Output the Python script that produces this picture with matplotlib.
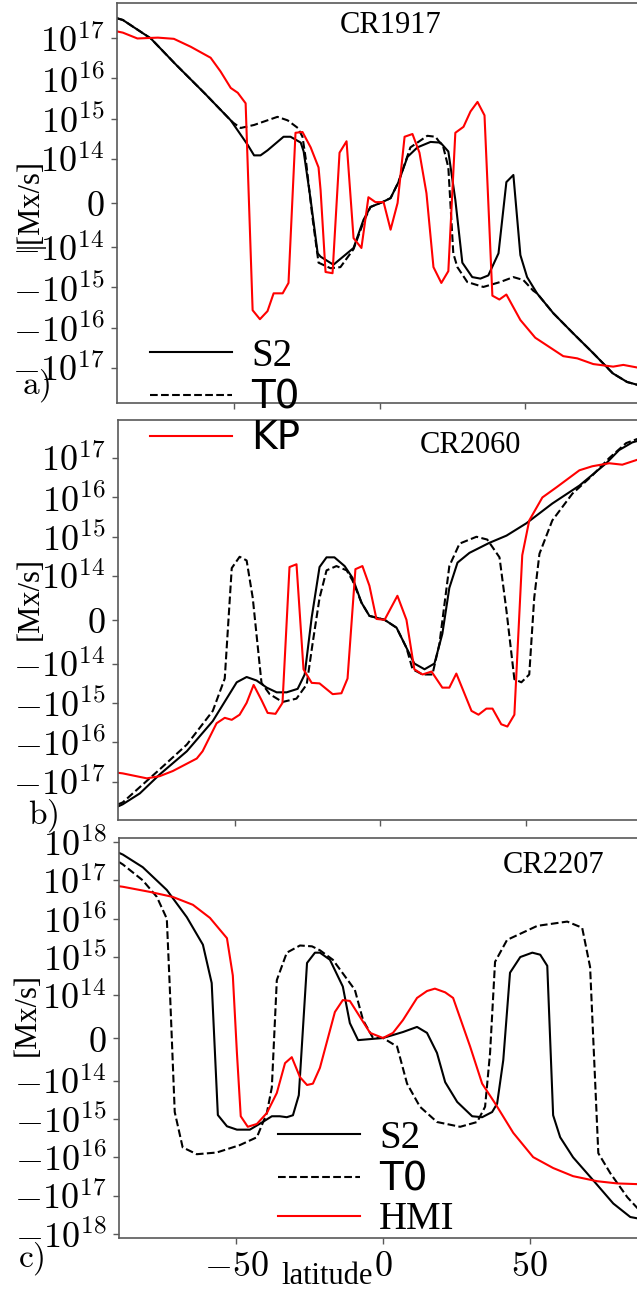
import numpy as np
import matplotlib
matplotlib.use('Agg')
import matplotlib.pyplot as plt
from matplotlib.lines import Line2D
from matplotlib.ticker import FixedLocator, FuncFormatter

plt.rcParams['mathtext.fontset'] = 'cm'

# ---------------- data (net open flux vs latitude) ----------------
# panel a) CR1917
lat_a_s2 = [-90, -88, -78.4, -70, -60, -51, -45.2, -43, -40.8, -38.4, -32.9, -30.5, -27, -26, -23.6,
            -21.2, -20.2, -15.8, -8.9, -5.5, -3.1, 1, 3.8, 6.5, 9.6, 13, 17.5, 20.9, 23.6, 26, 28.4,
            31.8, 34.6, 37.3, 40.8, 43.5, 45.9, 48.3, 50.6, 54, 59.6, 66.4, 73.3, 80, 84.9, 88.4, 90]
a_s2 = [3.2e17, 2.9e17, 1e17, 2.3e16, 4.3e15, 9e14, 2.2e14, 1.2e14, 1.2e14, 1.6e14, 3.5e14, 3.5e14,
        2.5e14, 1.5e14, 7e12, -1.4e14, -1.7e14, -2.7e14, -1.03e14, -3.8e13, -9e12, 2e12, 1.1e13,
        4.7e13, 1.1e14, 1.9e14, 2.6e14, 2.5e14, 1.5e14, 7e12, -2.4e14, -5.5e14, -6e14, -5e14,
        -1.4e14, 4.7e13, 6.3e13, -1.55e14, -5.5e14, -1.4e15, -4.4e15, -1.4e16, -4.4e16, -1.4e17,
        -2.3e17, -2.7e17, -2.8e17]
lat_a_t0 = [-90, -88, -78.4, -70, -60, -51, -50, -47.6, -43, -35, -31.5, -28, -26.4, -25.3, -23,
            -20.9, -16.8, -13.4, -8.9, -5.5, -3.1, 1, 3.8, 6.5, 10.6, 16.4, 19.2, 21.9, 23.6, 25.3,
            26.7, 30.1, 35.6, 41.4, 45.9, 49.3, 52.7, 54, 59.6, 66.4, 73.3, 80, 84.9, 88.4, 90]
a_t0 = [3.2e17, 2.9e17, 1e17, 2.3e16, 4.3e15, 9e14, 7.7e14, 5.8e14, 6.9e14, 1.1e15, 9e14, 5.8e14,
        3.5e14, 1e14, -3.2e13, -2.4e14, -3.3e14, -3.1e14, -1.1e14, -4.3e13, -9e12, 2e12, 1.1e13,
        4.7e13, 1.9e14, 3.7e14, 3.5e14, 1.9e14, 8e13, -1.4e14, -3.1e14, -7.3e14, -9.7e14, -7.3e14,
        -5.5e14, -6.5e14, -1.2e15, -1.4e15, -4.4e15, -1.4e16, -4.4e16, -1.4e17, -2.3e17, -2.7e17,
        -2.8e17]
lat_a_kp = [-90, -88, -83, -76, -70.5, -64.7, -57.9, -54.5, -51, -48.6, -45.9, -43.5, -41, -38.4,
            -36.3, -33.2, -31.2, -28.8, -26.4, -23.6, -20.9, -20.2, -18.5, -16.1, -13.7, -11.3,
            -8.9, -6.2, -3.8, -1.4, 1.4, 3.8, 6.2, 8.6, 11.3, 13.7, 16.1, 18.5, 21.2, 23.6, 26,
            28.8, 31.2, 33.6, 36, 38.7, 41.1, 43.5, 48.3, 53.4, 63, 67.8, 73.3, 80.1, 83.6, 88.4, 90]
a_kp = [1.5e17, 1.4e17, 1e17, 1.05e17, 9.8e16, 6.2e16, 3.3e16, 1.5e16, 5.8e15, 4.4e15, 2.4e15,
        -3.7e15, -6.2e15, -3.9e15, -1.4e15, -1.4e15, -7.7e14, 4.4e14, 4.6e14, 1.9e14, 8e13, 2.9e13,
        -4.1e14, -4.4e14, 1.4e14, 2.7e14, -7.9e13, -1.03e14, 1.3e13, 2e12, 2e12, -6e13, 0, 3.5e14,
        4.1e14, 1.4e14, 2.2e13, -3.1e14, -7.7e14, -3.9e14, 4.4e14, 6.2e14, 1.5e15, 2.6e15, 1.2e15,
        -1.6e15, -2e15, -1.5e15, -6.5e15, -1.8e16, -5.2e16, -5.9e16, -8.2e16, -9.5e16, -8.6e16,
        -1e17, -1.1e17]

# panel b) CR2060
lat_b_s2 = [-90, -88.4, -82.5, -75.7, -66.4, -57.5, -49.3, -45.9, -42.5, -39, -35.6, -32.2, -28.4,
            -26, -23.6, -20.9, -18.5, -15.8, -12.3, -9.6, -6.5, -3.8, 1.4, 5.5, 8.9, 11.6, 15.1,
            18.5, 21.2, 23.6, 26.4, 30.5, 37.3, 43.2, 50, 58.9, 68.2, 77.4, 81.8, 86.3, 90]
b_s2 = [-4.3e17, -3.8e17, -2e17, -6.6e16, -1.7e16, -2.9e15, -3e14, -2.2e14, -2.7e14, -4.1e14,
        -5.4e14, -5.4e14, -4.4e14, -1.9e14, 5e12, 1.7e14, 3e14, 3e14, 1.8e14, 9.6e13, 3.9e13, 9e12,
        0, -1.8e13, -6.4e13, -1e14, -1.4e14, -1e14, -3.2e13, 7.3e13, 2.2e14, 3.9e14, 7e14, 1.07e15,
        2.2e15, 7e15, 2e16, 7.4e16, 1.6e17, 2.5e17, 3e17]
lat_b_t0 = [-90, -88.4, -75.7, -66.4, -57.5, -53.4, -51, -48.3, -45.9, -43.8, -40.8, -38, -33.6,
            -28.8, -25.3, -23.3, -20.9, -18.5, -15.1, -11.6, -9.6, -6.5, -3.8, 1.4, 5.5, 8.9, 11,
            14.4, 17.8, 20.2, 23.6, 27.1, 32.9, 36.6, 40.8, 43.2, 45.9, 48.3, 51, 52.7, 54.5, 58.9,
            65.8, 72.6, 78.4, 84.2, 87.7, 90]
b_t0 = [-3.8e17, -3.4e17, -4.9e16, -1.15e16, -1.6e15, -2.4e14, 1.6e14, 3.1e14, 2.5e14, 5e13,
        -3.1e14, -6e14, -9.5e14, -7.8e14, -3.4e14, -5.5e13, 5e13, 1.4e14, 1.8e14, 1.4e14, 9e13,
        3.9e13, 9e12, 0, -1.8e13, -6.4e13, -1.4e14, -1.9e14, -1.9e14, -5.5e13, 1.8e14, 6.7e14,
        1e15, 8.5e14, 3e14, 2e13, -2.5e14, -3e14, -1.9e14, 5e13, 3.7e14, 2.6e15, 1.25e16, 3.6e16,
        1e17, 2.4e17, 3e17, 3.4e17]
lat_b_kp = [-90, -88.4, -80.1, -75.7, -71.2, -63, -61, -56.2, -53.4, -51, -48.3, -45.9, -43.5,
            -40.8, -38.7, -36, -33.6, -31.2, -28.8, -26.4, -23.6, -20.9, -16.4, -13.4, -11.3, -8.6,
            -6.2, -3.8, -1.4, 1.4, 5.8, 8.9, 11.6, 14.4, 17.5, 21.2, 23.6, 26, 31.2, 33.6, 36.3,
            38.4, 41.4, 43.5, 45.9, 48.6, 51, 55.5, 60.3, 68.2, 72.6, 78.4, 82.9, 87.7, 90]
b_kp = [-6e16, -6.2e16, -8.3e16, -7.3e16, -5.4e16, -2.6e16, -1.7e16, -3.3e15, -2.4e15, -2.7e15,
        -2e15, -1e15, -3.5e14, -8.5e14, -1.8e15, -1.9e15, -1e15, 1.7e14, 2e14, -1.4e14, -3.1e14,
        -3.2e14, -6e14, -5.7e14, -2.4e14, 1.5e14, 1.8e14, 7.8e13, 2e12, 0, 5.5e13, 0, -1.4e14,
        -1.9e14, -1.6e14, -4.1e14, -4.1e14, -1.8e14, -1.6e15, -2e15, -1.4e15, -1.4e15, -3.5e15,
        -4e15, -2e15, 3.4e14, 2.6e15, 1e16, 1.8e16, 4.9e16, 6.2e16, 7.4e16, 6.8e16, 8.9e16, 1e17]

# panel c) CR2207
lat_c_s2 = [-90, -88.7, -81.9, -73.7, -66.9, -61.4, -58.4, -56.3, -53.2, -49.8, -45.4, -41, -37.9,
            -35.2, -32.8, -30.7, -28.7, -25.9, -23.2, -21.5, -18.1, -13.7, -11.3, -8.5, 0, 6.8,
            11.6, 15, 18.4, 21.2, 25.3, 30.4, 33.8, 37.2, 38.9, 41, 43.3, 46.8, 50.9, 53.6, 56, 58,
            60.4, 64.8, 71.7, 78.5, 84.3, 86.7, 90]
c_s2 = [5.2e17, 4.7e17, 2.2e17, 5.6e16, 1.1e16, 2.1e15, 2.1e14, -7.9e14, -1.55e15, -1.9e15,
        -1.9e15, -1.2e15, -8.5e14, -8.5e14, -9e14, -8e14, -2.4e14, 7e14, 1.3e15, 1.3e15, 8.5e14,
        1.7e14, 3.5e13, -5e12, 0, 1.4e13, 2.6e13, 1.2e13, -3.5e13, -1.1e14, -3.6e14, -8.5e14,
        -9e14, -6.6e14, -4e14, -5.2e13, 3.9e14, 1e15, 1.3e15, 1.15e15, 5.9e14, -8e14, -3e15,
        -1e16, -4e16, -1.6e17, -3.6e17, -3.9e17, -4.5e17]
lat_c_t0 = [-90, -88.7, -81.9, -77.1, -73.7, -72.7, -71, -68.3, -63.5, -56.7, -48.8, -43, -39.6,
            -37.9, -36.2, -32.8, -28.3, -24.2, -21.5, -17.1, -9.6, -6.8, -3.4, 0, 4.8, 8.2, 12.6,
            18.4, 26.3, 32.1, 34.8, 36.5, 38.2, 42.3, 52.6, 62.8, 67.9, 70.6, 73.4, 77.5, 83.3,
            86.7, 90]
c_t0 = [3e17, 2.6e17, 1e17, 3.7e16, 1e16, 1.7e14, -6.6e14, -5.5e15, -8.3e15, -7.5e15, -4.8e15,
        -3e15, -7e14, -1.5e14, 2.5e14, 1.3e15, 2e15, 1.9e15, 1.5e15, 8.5e14, 1.4e14, 4.2e13, 0, 0,
        -2e13, -1.2e14, -4.8e14, -1.2e15, -1.6e15, -1.2e15, -4.8e14, -3.5e13, 7.5e14, 2.8e15,
        6.5e15, 8.4e15, 5.8e15, 5.5e14, -7.8e15, -2.6e16, -1.1e17, -2.1e17, -2.8e17]
lat_c_hmi = [-90, -88.7, -79.5, -71.7, -64.8, -59, -53.2, -51.2, -49.8, -48.5, -46.1, -43, -39.6,
             -36.2, -33.4, -31.1, -28.3, -25.9, -23.9, -21.5, -16.4, -13.7, -11.3, -4.4, 0, 3.4,
             6.8, 11.6, 15, 17.7, 21.2, 23.9, 29.7, 33.8, 38.2, 44.4, 51.2, 58, 64.8, 73, 79.9,
             86.7, 90]
c_hmi = [7e16, 6.8e16, 5e16, 3.7e16, 2.3e16, 1.05e16, 3.1e15, 3.3e14, -3.5e13, -8.5e14, -1.6e15,
         -1.35e15, -7e14, -2.1e14, -5.9e13, -4.5e13, -9.2e13, -1.3e14, -1.2e14, -7e13, 6.1e13,
         8.9e13, 8.7e13, 1.2e13, 0, 1.2e13, 4.2e13, 9.4e13, 1.3e14, 1.5e14, 1.2e14, 9.4e13, -2e13,
         -1.2e14, -3.9e14, -2.3e15, -9.9e15, -1.9e16, -3.1e16, -4.2e16, -4.8e16, -5e16, -5.2e16]

titles = ['CR1917', 'CR2060', 'CR2207']
panel_tags = ['a)', 'b)', 'c)']
exps_a = [14, 15, 16, 17]
exps_c = [14, 15, 16, 17, 18]

# ---------------- figure ----------------
W, H = 637, 1294
fig = plt.figure(figsize=(W / 100, H / 100), dpi=100)


def px_axes(left, top, right, bottom):
    return fig.add_axes([left / W, 1 - bottom / H, (right - left) / W, (bottom - top) / H])


def ylab(v, pos):
    if v == 0:
        return r'$0$'
    e = int(round(np.log10(abs(v))))
    s = '-' if v < 0 else ''
    return r'$%s10^{%d}$' % (s, e)


ax_a = px_axes(117, 3, 642, 403)
ax_b = px_axes(118, 420, 643, 820)
ax_c = px_axes(119, 838, 647, 1238)
axes = [ax_a, ax_b, ax_c]

ax_a.plot(lat_a_s2, a_s2, color='black', lw=1.5)
ax_a.plot(lat_a_t0, a_t0, color='black', lw=1.5, ls='--')
ax_a.plot(lat_a_kp, a_kp, color='red', lw=1.5)

ax_b.plot(lat_b_s2, b_s2, color='black', lw=1.5)
ax_b.plot(lat_b_t0, b_t0, color='black', lw=1.5, ls='--')
ax_b.plot(lat_b_kp, b_kp, color='red', lw=1.5)

ax_c.plot(lat_c_s2, c_s2, color='black', lw=1.5)
ax_c.plot(lat_c_t0, c_t0, color='black', lw=1.5, ls='--')
ax_c.plot(lat_c_hmi, c_hmi, color='red', lw=1.5)

ylims = [(-7.7e17, 7.7e17), (-9.5e17, 9.3e17), (-1.27e18, 1.27e18)]
exps = [exps_a, exps_a, exps_c]
for ax, yl, ex in zip(axes, ylims, exps):
    ax.set_yscale('symlog', linthresh=1e14)
    ax.set_xlim(-90, 90)
    ax.set_ylim(*yl)
    ticks = [-10.0 ** e for e in ex[::-1]] + [0] + [10.0 ** e for e in ex]
    ax.yaxis.set_major_locator(FixedLocator(ticks))
    ax.yaxis.set_minor_locator(FixedLocator([]))
    ax.yaxis.set_major_formatter(FuncFormatter(ylab))
    ax.set_xticks([-50, 0, 50])
    ax.set_facecolor('none')
    ax.tick_params(labelsize=26, length=4, width=1, color='0.35', pad=5)
    for sp in ax.spines.values():
        sp.set_color('0.35')
        sp.set_linewidth(1.2)

ax_a.tick_params(axis='x', labelbottom=False)
ax_b.tick_params(axis='x', labelbottom=False)
ax_c.xaxis.set_major_formatter(FuncFormatter(lambda v, p: r'$%d$' % v))
ax_c.tick_params(axis='x', pad=4)

# titles, panel tags, axis labels
serif = 'Liberation Serif'
fig.text(391 / W, 1 - 33 / H, titles[0], family=serif, fontsize=22, ha='center', va='baseline')
fig.text(470 / W, 1 - 453 / H, titles[1], family=serif, fontsize=22, ha='center', va='baseline')
fig.text(554 / W, 1 - 873 / H, titles[2], family=serif, fontsize=22, ha='center', va='baseline')

fig.text(22 / W, 1 - 394 / H, r'$\mathrm{%s}$' % panel_tags[0], fontsize=24, va='baseline')
fig.text(28 / W, 1 - 824 / H, r'$\mathrm{%s}$' % panel_tags[1], fontsize=24, va='baseline')
fig.text(18 / W, 1 - 1267 / H, r'$\mathrm{%s}$' % panel_tags[2], fontsize=24, va='baseline')

fig.text(30 / W, 1 - 203 / H, '|[Mx/s]', family=serif, fontsize=22, rotation=90,
         ha='center', va='center')
fig.text(30 / W, 1 - 598 / H, '[Mx/s]', family=serif, fontsize=22, rotation=90,
         ha='center', va='center')
fig.text(27 / W, 1 - 1014 / H, '[Mx/s]', family=serif, fontsize=22, rotation=90,
         ha='center', va='center')
fig.text(327 / W, 1 - 1284 / H, 'latitude', family=serif, fontsize=22, ha='center', va='baseline')

# legends (drawn on figure level so they sit above the neighbouring panel)
handles = [Line2D([], [], color='black', lw=1.5),
           Line2D([], [], color='black', lw=1.5, ls='--'),
           Line2D([], [], color='red', lw=1.5)]
leg_a = fig.legend(handles, ['S2', 'T0', 'KP'], loc='upper left', bbox_to_anchor=(150 / W, 1 - 338 / H),
                   frameon=False, fontsize=28, borderpad=0, borderaxespad=0, labelspacing=0.08,
                   handlelength=2.1, handletextpad=0.5)
leg_c = fig.legend(handles, ['S2', 'T0', 'HMI'], loc='upper left', bbox_to_anchor=(278 / W, 1 - 1120 / H),
                   frameon=False, fontsize=28, borderpad=0, borderaxespad=0, labelspacing=0.08,
                   handlelength=2.1, handletextpad=0.5)
for t, fam in zip(leg_a.get_texts(), [serif, 'DejaVu Sans', 'DejaVu Sans']):
    t.set_fontfamily(fam)
for t, fam in zip(leg_c.get_texts(), [serif, 'DejaVu Sans', serif]):
    t.set_fontfamily(fam)

fig.savefig('out.png', dpi=100)
